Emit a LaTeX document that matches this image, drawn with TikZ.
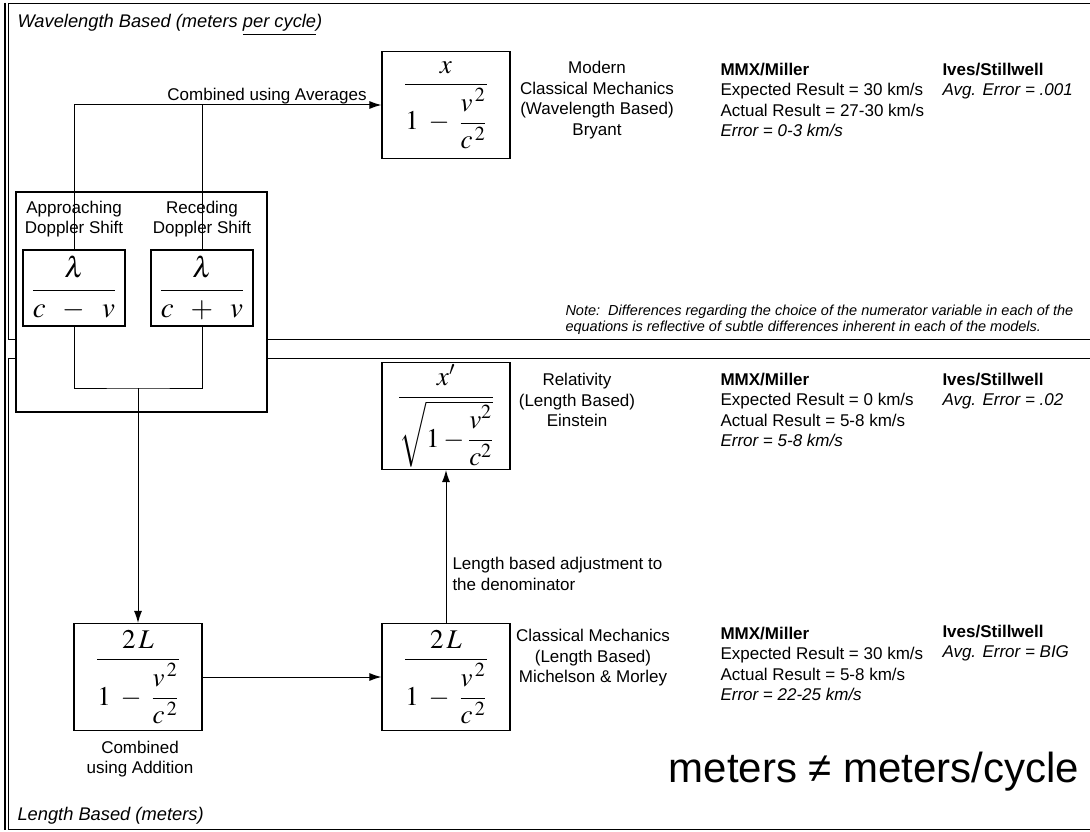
\documentclass[tikz,border=0pt]{standalone}
\usepackage{amsmath}
\usepackage{mathptmx}
\usepackage[no-math]{fontspec}
\setmainfont{Liberation Sans}
\usetikzlibrary{arrows.meta}

\begin{document}
\begin{tikzpicture}[x=1pt,y=-1pt,line width=1pt,
    eqn/.style={draw,line width=1.1pt,fill=white,inner sep=0pt,
        minimum width=128pt,minimum height=107pt,
        font=\fontsize{27}{31}\selectfont},
    dopeq/.style={eqn,minimum width=102pt,minimum height=76pt,
        font=\fontsize{29}{33}\selectfont},
    txt/.style={font=\fontsize{17}{20.5}\selectfont,align=center,inner sep=0pt},
    txl/.style={txt,align=left,anchor=west},
    arr/.style={-{Latex[length=12pt,width=8pt]}}]
    \useasboundingbox (0,0) rectangle (1090,832);

    % the two regions
    \draw (1095,4) -- (8,4) -- (8,339) -- (1095,339);
    \draw (1095,358) -- (8,358) -- (8,829) -- (1095,829);
    \draw[line width=2.5pt] (5,3) -- (5,830);
    \node[txl,font=\fontsize{18.3}{21}\selectfont\itshape] (wavetitle) at (17,25)
        {Wavelength Based (meters \underline{per cycle})};
    \node[txl,font=\fontsize{18.3}{21}\selectfont\itshape] (lentitle) at (17,816)
        {Length Based (meters)};

    % doppler shifts
    \node[draw,line width=1.1pt,fill=white,minimum width=251pt,minimum height=220pt] (dop) at (141.5,302) {};
    \node[dopeq] (app) at (74,288) {$\dfrac{\lambda}{c\;\;-\;\;v}$};
    \node[dopeq] (rec) at (202,288) {$\dfrac{\lambda}{c\;\;+\;\;v}$};

    \node[eqn] (avg) at (446,105) {$\dfrac{x}{1\;-\;\dfrac{v^{\,2}}{c^{\,2}}}$};
    \node[eqn] (rel) at (446,416) {$\dfrac{x'}{\sqrt{1-\dfrac{v^{2}}{c^{2}}}}$};
    \node[eqn] (add) at (138,677) {$\dfrac{2\,L}{1\;-\;\dfrac{v^{\,2}}{c^{\,2}}}$};
    \node[eqn] (mm) at (446,677) {$\dfrac{2\,L}{1\;-\;\dfrac{v^{\,2}}{c^{\,2}}}$};

    \coordinate (join) at (138,388);
    \draw[arr] (app.north) |- (avg.west);
    \draw (rec.north) -- (rec.north |- avg.west);
    \draw (app.south) |- (join) -| (rec.south);
    \draw[arr] (join) -- (add.north);
    \draw[arr] (add.east) -- (mm.west);
    \draw[arr] (mm.north) -- (rel.south);

    \node[txt] (applbl) at (74,219) {Approaching\\Doppler Shift};
    \node[txt] (reclbl) at (202,219) {Receding\\Doppler Shift};
    \node[txt] (avglbl) at (267,96) {Combined using Averages};
    \node[txt] (addlbl) at (140,759) {Combined\\using Addition};
    \node[txl] (adjlbl) at (452,574) {Length based adjustment to\\the denominator};

    % models
    \node[txt] (bryant) at (597,100) {Modern\\Classical Mechanics\\(Wavelength Based)\\Bryant};
    \node[txt] (einstein) at (577,400) {Relativity\\(Length Based)\\Einstein};
    \node[txt] (michelson) at (593,658) {Classical Mechanics\\(Length Based)\\Michelson \& Morley};

    % results
    \node[txl] (mmx1) at (720,100) {\textbf{MMX/Miller}\\Expected Result = 30 km/s\\Actual Result = 27-30 km/s\\\textit{Error = 0-3 km/s}};
    \node[txl] (ives1) at (942,81) {\textbf{Ives/Stillwell}\\\textit{Avg. Error = .001}};
    \node[txl] (mmx2) at (720,410) {\textbf{MMX/Miller}\\Expected Result = 0 km/s\\Actual Result = 5-8 km/s\\\textit{Error = 5-8 km/s}};
    \node[txl] (ives2) at (942,391) {\textbf{Ives/Stillwell}\\\textit{Avg. Error = .02}};
    \node[txl] (mmx3) at (720,664) {\textbf{MMX/Miller}\\Expected Result = 30 km/s\\Actual Result = 5-8 km/s\\\textit{Error = 22-25 km/s}};
    \node[txl] (ives3) at (942,643) {\textbf{Ives/Stillwell}\\\textit{Avg. Error = BIG}};

    \node[txl,font=\fontsize{14.5}{16}\selectfont\itshape] (note) at (565,320)
        {Note:\ \ Differences regarding the choice of the numerator variable in each of the\\equations is reflective of subtle differences inherent in each of the models.};

    \node[txt,font=\fontsize{42}{42}\selectfont] (hand) at (874,772) {meters ≠ meters/cycle};
\end{tikzpicture}
\end{document}
